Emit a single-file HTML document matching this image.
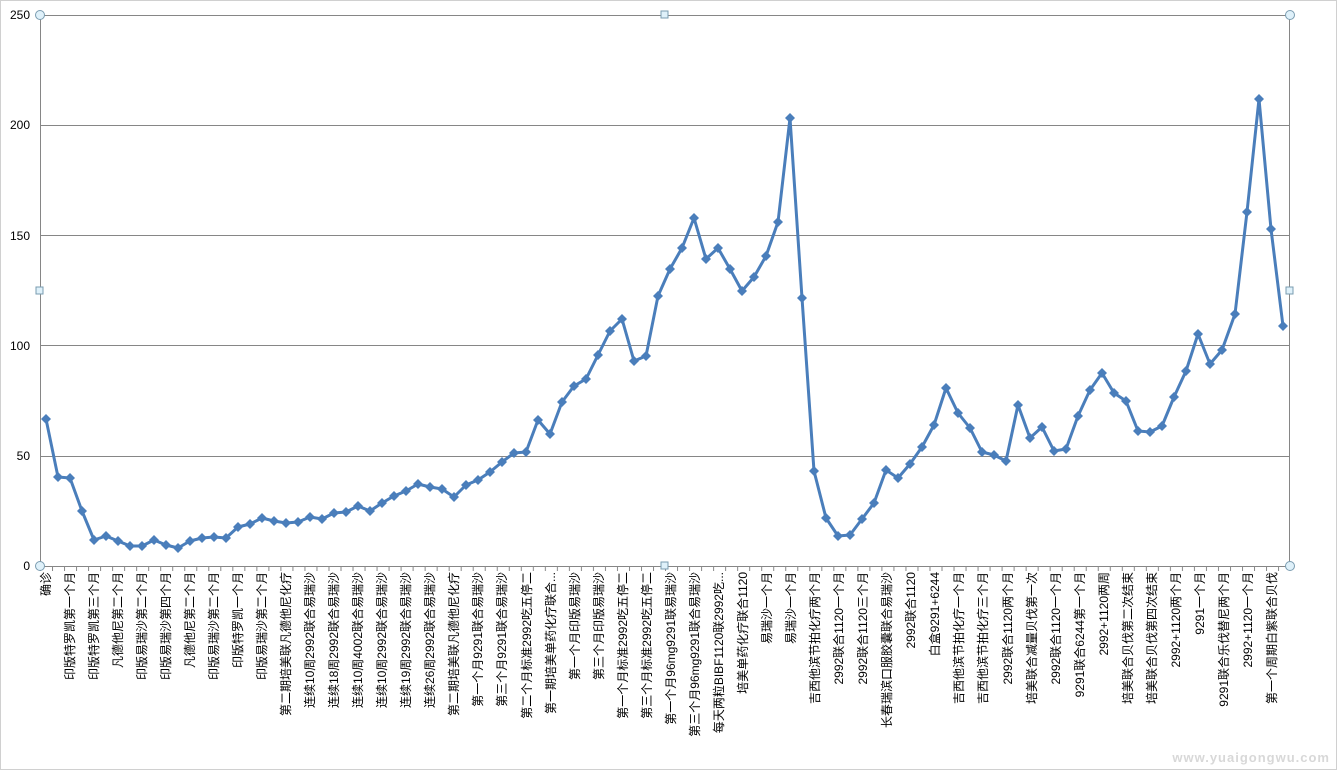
<!DOCTYPE html>
<html><head><meta charset="utf-8"><style>
html,body{margin:0;padding:0;background:#fff}
svg{display:block}
text{font-family:"Liberation Sans","Noto Sans CJK SC",sans-serif;font-size:12px;fill:#000}
</style></head><body>
<svg width="1337" height="770" xmlns="http://www.w3.org/2000/svg">
<defs>
<marker id="d" markerWidth="12" markerHeight="12" refX="6" refY="6" markerUnits="userSpaceOnUse">
<path d="M6 1 L11 6 L6 11 L1 6 Z" fill="#4a7ebb"/>
</marker>
<pattern id="tk" x="40" y="0" width="12.02" height="10" patternUnits="userSpaceOnUse"><rect x="0" y="0" width="1" height="10" fill="#888"/></pattern>
</defs>
<rect x="0.5" y="0.5" width="1336" height="769" fill="#fff" stroke="#d0d0d0"/>
<g stroke="#868686" stroke-width="1">
<line x1="40" y1="15.5" x2="1290" y2="15.5"/>
<line x1="40" y1="125.5" x2="1290" y2="125.5"/>
<line x1="40" y1="235.5" x2="1290" y2="235.5"/>
<line x1="40" y1="345.5" x2="1290" y2="345.5"/>
<line x1="40" y1="456.5" x2="1290" y2="456.5"/>
<line x1="40" y1="566.5" x2="1290" y2="566.5"/>
<line x1="40.5" y1="15" x2="40.5" y2="570"/>
<line x1="1289.5" y1="15" x2="1289.5" y2="566"/>
</g>
<rect x="40" y="566" width="1250" height="5" fill="url(#tk)"/>
<g text-anchor="end">
<text x="30" y="570">0</text>
<text x="30" y="460">50</text>
<text x="30" y="350">100</text>
<text x="30" y="240">150</text>
<text x="30" y="129">200</text>
<text x="30" y="19">250</text>
</g>
<polyline fill="none" stroke="#4a7ebb" stroke-width="3" stroke-linejoin="round" marker-start="url(#d)" marker-mid="url(#d)" marker-end="url(#d)" points="46,419 58,477 70,478 82,511 94,540 106,536 118,541 130,546 142,546 154,540 166,545 178,548 190,541 202,538 214,537 226,538 238,527 250,524 262,518 274,521 286,523 298,522 310,517 322,519 334,513 346,512 358,506 370,511 382,503 394,496 406,491 418,484 430,487 442,489 454,497 466,485 478,480 490,472 502,462 514,453 526,452 538,420 550,434 562,402 574,386 586,379 598,355 610,331 622,319 634,361 646,356 658,296 670,269 682,248 694,218 706,259 718,248 730,269 742,291 754,277 766,256 778,222 790,118 802,298 814,471 826,518 838,536 850,535 862,519 874,503 886,470 898,478 910,464 922,447 934,425 946,388 958,413 970,428 982,452 994,455 1006,461 1018,405 1030,438 1042,427 1054,451 1066,449 1078,416 1090,390 1102,373 1114,393 1126,401 1138,431 1150,432 1162,426 1174,397 1186,371 1198,334 1210,364 1222,350 1235,314 1247,212 1259,99 1271,229 1283,326"/>
<g text-anchor="end">
<text transform="translate(50,572) rotate(-90)">确诊</text>
<text transform="translate(74,572) rotate(-90)">印版特罗凯第一个月</text>
<text transform="translate(98,572) rotate(-90)">印版特罗凯第三个月</text>
<text transform="translate(122,572) rotate(-90)">凡德他尼第二个月</text>
<text transform="translate(146,572) rotate(-90)">印版易瑞沙第二个月</text>
<text transform="translate(170,572) rotate(-90)">印版易瑞沙第四个月</text>
<text transform="translate(194,572) rotate(-90)">凡德他尼第二个月</text>
<text transform="translate(218,572) rotate(-90)">印版易瑞沙第二个月</text>
<text transform="translate(242,572) rotate(-90)">印版特罗凯一个月</text>
<text transform="translate(266,572) rotate(-90)">印版易瑞沙第二个月</text>
<text transform="translate(290,572) rotate(-90)">第二期培美联凡德他尼化疗</text>
<text transform="translate(314,572) rotate(-90)">连续10周2992联合易瑞沙</text>
<text transform="translate(338,572) rotate(-90)">连续18周2992联合易瑞沙</text>
<text transform="translate(362,572) rotate(-90)">连续10周4002联合易瑞沙</text>
<text transform="translate(386,572) rotate(-90)">连续10周2992联合易瑞沙</text>
<text transform="translate(410,572) rotate(-90)">连续19周2992联合易瑞沙</text>
<text transform="translate(434,572) rotate(-90)">连续26周2992联合易瑞沙</text>
<text transform="translate(458,572) rotate(-90)">第二期培美联凡德他尼化疗</text>
<text transform="translate(482,572) rotate(-90)">第一个月9291联合易瑞沙</text>
<text transform="translate(506,572) rotate(-90)">第三个月9291联合易瑞沙</text>
<text transform="translate(531,572) rotate(-90)">第二个月标准2992吃五停二</text>
<text transform="translate(555,572) rotate(-90)">第一期培美单药化疗联合...</text>
<text transform="translate(579,572) rotate(-90)">第一个月印版易瑞沙</text>
<text transform="translate(603,572) rotate(-90)">第三个月印版易瑞沙</text>
<text transform="translate(627,572) rotate(-90)">第一个月标准2992吃五停二</text>
<text transform="translate(651,572) rotate(-90)">第三个月标准2992吃五停二</text>
<text transform="translate(675,572) rotate(-90)">第一个月96mg9291联易瑞沙</text>
<text transform="translate(699,572) rotate(-90)">第三个月96mg9291联合易瑞沙</text>
<text transform="translate(723,572) rotate(-90)">每天两粒BIBF1120联2992吃...</text>
<text transform="translate(747,572) rotate(-90)">培美单药化疗联合1120</text>
<text transform="translate(771,572) rotate(-90)">易瑞沙一个月</text>
<text transform="translate(795,572) rotate(-90)">易瑞沙一个月</text>
<text transform="translate(819,572) rotate(-90)">吉西他滨节拍化疗两个月</text>
<text transform="translate(843,572) rotate(-90)">2992联合1120一个月</text>
<text transform="translate(867,572) rotate(-90)">2992联合1120三个月</text>
<text transform="translate(891,572) rotate(-90)">长春瑞滨口服胶囊联合易瑞沙</text>
<text transform="translate(915,572) rotate(-90)">2992联合1120</text>
<text transform="translate(939,572) rotate(-90)">白盒9291+6244</text>
<text transform="translate(963,572) rotate(-90)">吉西他滨节拍化疗一个月</text>
<text transform="translate(987,572) rotate(-90)">吉西他滨节拍化疗三个月</text>
<text transform="translate(1012,572) rotate(-90)">2992联合1120两个月</text>
<text transform="translate(1036,572) rotate(-90)">培美联合减量贝伐第一次</text>
<text transform="translate(1060,572) rotate(-90)">2992联合1120一个月</text>
<text transform="translate(1084,572) rotate(-90)">9291联合6244第一个月</text>
<text transform="translate(1108,572) rotate(-90)">2992+1120两周</text>
<text transform="translate(1132,572) rotate(-90)">培美联合贝伐第二次结束</text>
<text transform="translate(1156,572) rotate(-90)">培美联合贝伐第四次结束</text>
<text transform="translate(1180,572) rotate(-90)">2992+1120两个月</text>
<text transform="translate(1204,572) rotate(-90)">9291一个月</text>
<text transform="translate(1228,572) rotate(-90)">9291联合乐伐替尼两个月</text>
<text transform="translate(1252,572) rotate(-90)">2992+1120一个月</text>
<text transform="translate(1276,572) rotate(-90)">第一个周期白紫联合贝伐</text>
</g>
<g fill="#dff1fa" stroke="#7a9cb0" stroke-width="1">
<circle cx="40" cy="15" r="4.5"/><circle cx="1290" cy="15" r="4.5"/>
<circle cx="40" cy="566" r="4.5"/><circle cx="1290" cy="566" r="4.5"/>
<rect x="661" y="11" width="7" height="7"/><rect x="36" y="287" width="7" height="7"/>
<rect x="1286" y="287" width="7" height="7"/><rect x="661" y="562" width="7" height="7"/>
</g>
<text x="1330" y="762" text-anchor="end" style="font-size:13px;font-weight:bold;fill:#d8d8d8;letter-spacing:1px">www.yuaigongwu.com</text>
</svg>
</body></html>
